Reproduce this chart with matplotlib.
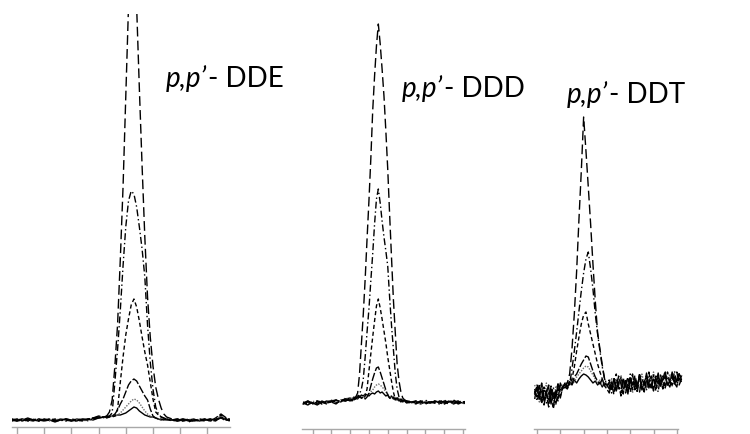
import numpy as np
import matplotlib
matplotlib.use('Agg')
import matplotlib.pyplot as plt

# ---- p,p'-DDE panel: sampling times and six traces (signal)
x_dde = [-0.2, 0.0, 0.2, 0.4, 0.6, 0.8, 1.0, 1.2, 1.4, 1.6, 1.8, 2.0, 2.2, 2.4, 2.6, 2.8, 3.0, 3.2,
         3.3, 3.4, 3.5, 3.6, 3.7, 3.8, 3.9, 4.0, 4.1, 4.2, 4.3, 4.4, 4.5, 4.6, 4.7, 4.8, 4.9, 5.0,
         5.1, 5.2, 5.3, 5.4, 5.5,
         5.7, 5.9, 6.1, 6.3, 6.5, 6.7, 6.9, 7.1, 7.3, 7.5, 7.7, 7.9]
dde_a = [8, 6, 7, 9, 7, 6, 8, 7, 5, 7, 8, 6, 7, 8, 7, 9, 10, 9,
         11, 15, 27, 61, 103, 168, 240, 330, 420, 480, 480, 420, 338, 261, 190, 130, 90, 61,
         40, 28, 19, 13, 10,
         8, 6, 7, 5, 7, 6, 8, 6, 7, 9, 6, 7]
dde_b = [7, 8, 6, 7, 8, 7, 6, 8, 7, 6, 8, 7, 6, 7, 8, 8, 9, 10,
         10, 11, 14, 45, 78, 117, 161, 200, 226, 236, 233, 220, 200, 178, 150, 102, 65, 38,
         20, 13, 10, 9, 8,
         7, 8, 6, 7, 6, 8, 7, 7, 6, 10, 7, 6]
dde_c = [6, 7, 8, 6, 7, 8, 6, 7, 8, 7, 6, 8, 7, 6, 8, 9, 9, 10,
         9, 10, 10, 11, 18, 45, 70, 92, 108, 122, 128, 120, 106, 90, 75, 62, 45, 28,
         15, 12, 10, 9, 8,
         6, 7, 8, 6, 7, 7, 6, 8, 7, 12, 8, 6]
dde_d = [8, 7, 6, 8, 7, 6, 7, 8, 6, 7, 8, 7, 6, 8, 7, 9, 11, 10,
         10, 11, 11, 13, 17, 23, 28, 35, 42, 46, 48, 46, 41, 36, 31, 27, 18, 11,
         9, 8, 8, 7, 8,
         7, 6, 8, 7, 6, 7, 8, 6, 9, 13, 9, 7]
dde_e = [6, 8, 7, 6, 8, 7, 8, 6, 7, 8, 6, 7, 8, 7, 6, 8, 10, 9,
         10, 10, 11, 11, 12, 14, 17, 20, 23, 26, 28, 27, 24, 20, 16, 13, 11, 10,
         9, 8, 8, 7, 7,
         8, 6, 7, 8, 6, 8, 7, 6, 8, 11, 8, 7]
dde_f = [7, 6, 8, 7, 6, 8, 7, 7, 6, 8, 7, 6, 8, 7, 8, 7, 9, 10,
         11, 10, 11, 11, 12, 12, 13, 14, 16, 18, 20, 19, 16, 14, 12, 11, 10, 10,
         9, 8, 7, 8, 7,
         7, 8, 6, 7, 8, 6, 7, 8, 7, 10, 7, 8]

# ---- p,p'-DDD panel
x_ddd = [-0.5, -0.25, 0.0, 0.25, 0.5, 0.75, 1.0, 1.25, 1.5, 1.75,
         2.0, 2.1, 2.2, 2.3, 2.4, 2.5, 2.6, 2.7, 2.8, 2.9, 3.0, 3.1, 3.2, 3.3, 3.4, 3.5,
         3.6, 3.7, 3.8, 3.9, 4.0, 4.1, 4.2, 4.3, 4.4, 4.5, 4.6, 4.7, 4.8, 4.9, 5.0,
         5.25, 5.5, 5.75, 6.0, 6.25, 6.5, 6.75, 7.0, 7.25, 7.5, 7.75, 8.0, 8.25]
ddd_a = [26, 24, 27, 25, 28, 26, 27, 29, 28, 30,
         29, 31, 30, 32, 36, 55, 85, 115, 150, 190, 228, 270, 318, 353, 383, 405,
         385, 360, 333, 298, 260, 215, 172, 130, 97, 65, 48, 37, 31, 29, 28,
         27, 26, 28, 25, 27, 26, 28, 27, 25, 27, 26, 28, 26]
ddd_b = [25, 27, 26, 28, 25, 27, 28, 27, 29, 28,
         30, 29, 31, 30, 32, 35, 40, 50, 72, 97, 120, 148, 175, 205, 230, 240,
         226, 208, 192, 178, 163, 132, 104, 80, 56, 40, 32, 29, 30, 28, 27,
         28, 26, 27, 29, 26, 27, 25, 28, 26, 27, 28, 25, 27]
ddd_c = [27, 25, 26, 28, 27, 25, 28, 26, 28, 30,
         28, 30, 29, 31, 30, 32, 31, 30, 33, 40, 58, 75, 92, 108, 123, 130,
         121, 110, 98, 86, 72, 60, 48, 37, 30, 31, 29, 30, 28, 29, 27,
         26, 28, 27, 25, 28, 26, 27, 29, 26, 28, 25, 27, 26]
ddd_d = [26, 28, 25, 27, 26, 28, 27, 25, 29, 28,
         30, 28, 31, 32, 30, 33, 31, 32, 30, 32, 36, 43, 50, 56, 61, 62,
         57, 51, 45, 39, 34, 31, 30, 32, 29, 31, 28, 30, 27, 29, 28,
         27, 25, 28, 26, 27, 28, 26, 25, 27, 29, 26, 27, 28]
ddd_e = [27, 25, 28, 26, 25, 27, 29, 27, 28, 31,
         29, 32, 30, 31, 33, 31, 33, 32, 34, 33, 35, 37, 39, 42, 44, 45,
         44, 42, 40, 37, 35, 33, 31, 32, 30, 29, 31, 28, 29, 27, 28,
         26, 27, 25, 28, 27, 26, 28, 25, 27, 26, 28, 27, 25]
ddd_f = [25, 28, 26, 24, 27, 26, 28, 29, 27, 30,
         31, 29, 32, 30, 33, 32, 34, 33, 35, 34, 33, 35, 36, 35, 37, 38,
         36, 37, 35, 33, 34, 31, 33, 30, 31, 29, 30, 27, 29, 28, 26,
         27, 28, 25, 27, 26, 28, 27, 26, 28, 25, 27, 26, 27]

# ---- p,p'-DDT panel (sampled every 0.1 from -0.1 to 6.2)
x_ddt = np.round(np.arange(-1, 63) / 10, 1)
ddt_a = [34, 42, 30, 38, 24, 36, 44, 28, 22, 35, 40, 31, 42,
         44, 46, 55, 80, 115, 158, 210, 258, 312, 278, 242, 205, 165, 128, 96, 80, 64, 50, 44,
         40, 46, 34, 50, 42, 38, 52, 36, 45, 48, 39, 54, 43, 37, 50, 44,
         56, 41, 47, 38, 53, 45, 49, 40, 55, 46, 42, 51, 47, 57, 44, 50]
ddt_b = [40, 28, 36, 46, 30, 26, 38, 33, 42, 24, 36, 44, 39,
         42, 40, 45, 60, 78, 97, 118, 138, 156, 170, 177, 160, 140, 115, 95, 78, 62, 50, 45,
         44, 36, 52, 40, 47, 33, 50, 43, 38, 55, 41, 46, 36, 53, 44, 48,
         39, 57, 42, 50, 45, 37, 54, 46, 41, 52, 48, 43, 58, 45, 51, 47]
ddt_c = [30, 44, 38, 25, 42, 34, 29, 40, 20, 37, 45, 33, 41,
         40, 47, 44, 50, 62, 78, 92, 105, 114, 117, 105, 95, 85, 75, 65, 57, 50, 44, 47,
         49, 38, 45, 55, 41, 36, 48, 44, 52, 37, 46, 50, 40, 56, 43, 39,
         51, 47, 42, 54, 38, 49, 45, 53, 41, 57, 46, 44, 52, 48, 55, 50]
ddt_d = [38, 32, 45, 27, 40, 35, 22, 43, 30, 38, 28, 46, 40,
         46, 42, 48, 45, 52, 55, 60, 65, 69, 73, 72, 65, 58, 52, 48, 45, 50, 43, 40,
         36, 47, 42, 39, 53, 45, 35, 50, 41, 48, 55, 38, 44, 51, 43, 37,
         49, 46, 54, 40, 47, 52, 43, 50, 58, 44, 48, 53, 46, 42, 56, 49]
ddt_e = [44, 36, 27, 41, 33, 46, 30, 38, 26, 42, 35, 39, 45,
         43, 48, 44, 50, 47, 52, 55, 58, 61, 63, 62, 58, 54, 50, 46, 49, 44, 47, 42,
         42, 51, 37, 46, 40, 54, 44, 38, 49, 43, 36, 52, 47, 41, 55, 45,
         39, 50, 44, 57, 42, 48, 53, 40, 49, 46, 55, 43, 51, 47, 45, 54]
ddt_f = [36, 41, 31, 44, 28, 38, 42, 25, 36, 31, 45, 38, 43,
         45, 41, 47, 44, 49, 46, 50, 53, 55, 54, 52, 49, 46, 48, 44, 47, 42, 46, 43,
         47, 41, 50, 38, 45, 52, 40, 46, 35, 51, 44, 48, 42, 54, 39, 47,
         53, 45, 41, 50, 46, 56, 43, 49, 52, 44, 47, 57, 45, 50, 48, 53]

names = ["DDE", "DDD", "DDT"]

W, H = 750, 435
fig = plt.figure(figsize=(W / 100, H / 100), dpi=100)
axis_grey = '#a8a8a8'

# one line style per trace, in the order a..f
styles = [
    dict(color='black', lw=1.0, dashes=(7, 3)),
    dict(color='black', lw=1.0, dashes=(5, 2, 1, 2)),
    dict(color='black', lw=1.0, dashes=(3, 2)),
    dict(color='black', lw=1.0, dashes=(6, 1.5)),
    dict(color='#707070', lw=1.0, dashes=(1, 1)),
    dict(color='black', lw=1.0, linestyle='-'),
]


def panel(left, right, spine, top, xlim, nticks):
    ax = fig.add_axes([left / W, (H - spine) / H, (right - left) / W, (spine - top) / H])
    ax.set_xlim(*xlim)
    ax.set_ylim(0, spine - top)
    for s in ['left', 'right', 'top']:
        ax.spines[s].set_visible(False)
    ax.spines['bottom'].set_color(axis_grey)
    ax.spines['bottom'].set_linewidth(1.0)
    ax.set_xticks(range(nticks))
    ax.set_xticklabels([])
    ax.set_yticks([])
    ax.tick_params(axis='x', direction='out', length=5, width=1, color=axis_grey)
    ax.patch.set_alpha(0)
    return ax


ax1 = panel(12, 230, 428, 15, (-0.18, 7.83), 8)
ax2 = panel(302, 465, 430, 15, (-0.56, 8.11), 9)
ax3 = panel(534, 678, 430, 15, (-0.13, 6.05), 7)

for ax, xs, traces, clip in [
        (ax1, x_dde, [dde_a, dde_b, dde_c, dde_d, dde_e, dde_f], True),
        (ax2, x_ddd, [ddd_a, ddd_b, ddd_c, ddd_d, ddd_e, ddd_f], True),
        (ax3, x_ddt, [ddt_a, ddt_b, ddt_c, ddt_d, ddt_e, ddt_f], False)]:
    for ys, st in zip(traces[::-1], styles[::-1]):
        ax.plot(xs, ys, clip_on=clip, **st)


def label(x_px, y_px, name):
    t = fig.text(x_px / W, 1 - y_px / H, "p,p\u2019", style='italic', fontsize=20,
                 family='Lato', va='baseline', ha='left')
    fig.canvas.draw()
    bb = t.get_window_extent()
    fig.text((bb.x1 + 1) / W, 1 - y_px / H, "- " + name, fontsize=20,
             family='Lato', va='baseline', ha='left')


label(166, 87, names[0])
label(402, 97, names[1])
label(567, 103, names[2])

fig.savefig('out.png', dpi=100)
